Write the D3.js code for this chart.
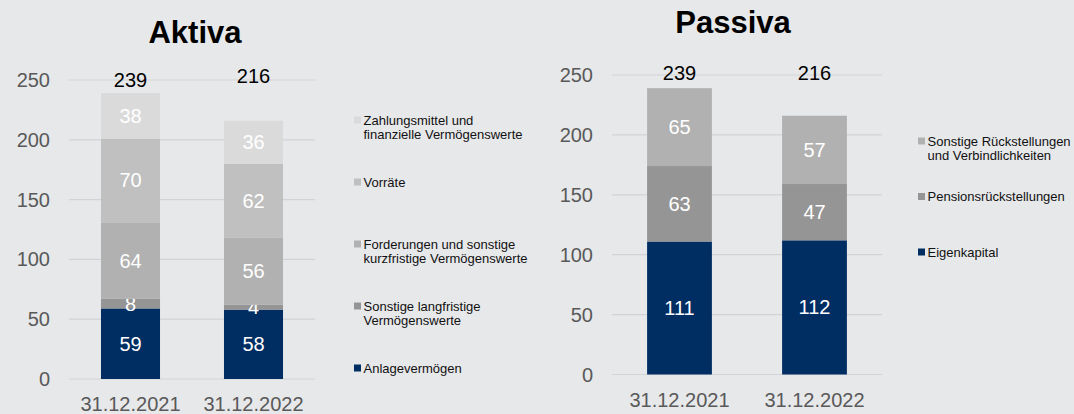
<!DOCTYPE html>
<html><head><meta charset="utf-8">
<script src="https://cdn.jsdelivr.net/npm/d3@7/dist/d3.min.js"></script>
<style>
html,body{margin:0;padding:0;background:#e7e8ea;}
svg{display:block;font-family:"Liberation Sans",Arial,sans-serif;}
</style></head>
<body><svg id="chart" width="1074" height="414"></svg>
<script>
// ---- data ----
const categories = ["31.12.2021", "31.12.2022"];
const yTicks = [0, 50, 100, 150, 200, 250];

const aktivaSeries = ["Anlagevermögen", "Sonstige langfristige Vermögenswerte", "Forderungen und sonstige kurzfristige Vermögenswerte", "Vorräte", "Zahlungsmittel und finanzielle Vermögenswerte"];
const aktivaLegend = [["Zahlungsmittel und", "finanzielle Vermögenswerte"], ["Vorräte"], ["Forderungen und sonstige", "kurzfristige Vermögenswerte"], ["Sonstige langfristige", "Vermögenswerte"], ["Anlagevermögen"]];
const anlagevermoegen = [59, 58];
const sonstigeLangfristige = [8, 4];
const forderungen = [64, 56];
const vorraete = [70, 62];
const zahlungsmittel = [38, 36];
const aktivaTotals = [239, 216];

const passivaSeries = ["Eigenkapital", "Pensionsrückstellungen", "Sonstige Rückstellungen und Verbindlichkeiten"];
const passivaLegend = [["Sonstige Rückstellungen", "und Verbindlichkeiten"], ["Pensionsrückstellungen"], ["Eigenkapital"]];
const eigenkapital = [111, 112];
const pensionen = [63, 47];
const sonstigeRueck = [65, 57];
const passivaTotals = [239, 216];

const navy = "#002d62";

const svg = d3.select("#chart");
svg.append("rect").attr("width", 1074).attr("height", 414).attr("fill", "#e7e8ea");

function drawChart(cfg) {
  const g = svg.append("g");
  const x = d3.scaleBand().domain(categories).range([cfg.x0, cfg.x1]).paddingInner(0.52).paddingOuter(0.26);
  const y = d3.scaleLinear().domain([0, 250]).range([cfg.yBottom, cfg.yTop]);

  // gridlines
  g.selectAll("line.grid").data(yTicks).join("line")
    .attr("x1", cfg.x0).attr("x2", cfg.x1)
    .attr("y1", d => y(d)).attr("y2", d => y(d))
    .attr("stroke", "#d2d3d6").attr("stroke-width", 1.2);

  // y tick labels
  g.selectAll("text.ytick").data(yTicks).join("text")
    .attr("x", cfg.x0 - 19).attr("y", d => y(d)).attr("dy", "0.35em")
    .attr("text-anchor", "end").attr("font-size", 20).attr("fill", "#595959")
    .text(d => d);

  // x labels
  g.selectAll("text.xtick").data(categories).join("text")
    .attr("x", d => x(d) + x.bandwidth() / 2).attr("y", y(0) + 32)
    .attr("text-anchor", "middle").attr("font-size", 20).attr("fill", "#595959")
    .text(d => d);

  // stacked data
  const rows = categories.map((c, i) => {
    const r = { cat: c };
    cfg.series.forEach((s, k) => r[s] = cfg.values[k][i]);
    return r;
  });
  const stacked = d3.stack().keys(cfg.series)(rows);
  const color = d3.scaleOrdinal().domain(cfg.series).range(cfg.colors);

  stacked.forEach(layer => {
    g.selectAll(null).data(layer).join("rect")
      .attr("x", d => x(d.data.cat)).attr("width", x.bandwidth())
      .attr("y", d => y(d[1])).attr("height", d => y(d[0]) - y(d[1]))
      .attr("fill", color(layer.key));
    g.selectAll(null).data(layer).join("text")
      .attr("x", d => x(d.data.cat) + x.bandwidth() / 2)
      .attr("y", d => y((d[0] + d[1]) / 2)).attr("dy", "0.35em")
      .attr("text-anchor", "middle").attr("font-size", 20).attr("fill", "#ffffff")
      .text(d => d[1] - d[0]);
  });

  // totals
  g.selectAll("text.total").data(cfg.totals).join("text")
    .attr("x", (d, i) => x(categories[i]) + x.bandwidth() / 2)
    .attr("y", (d, i) => y(250) + cfg.totalOffsets[i])
    .attr("text-anchor", "middle").attr("font-size", 20).attr("fill", "#000")
    .text(d => d);

  // title
  g.append("text").attr("x", cfg.titleX).attr("y", cfg.titleY)
    .attr("text-anchor", "middle").attr("font-size", 31).attr("font-weight", "bold")
    .attr("fill", "#000").text(cfg.title);

  // legend
  const ly = d3.scalePoint().domain(d3.range(cfg.legend.length)).range(cfg.legendRange);
  const legendColors = cfg.colors.slice().reverse();
  cfg.legend.forEach((lines, i) => {
    const cy = ly(i);
    g.append("rect").attr("x", cfg.legendX).attr("y", cy - 3.5).attr("width", 7).attr("height", 7)
      .attr("fill", legendColors[i]);
    const t = g.append("text").attr("x", cfg.legendX + 9.5).attr("y", cy)
      .attr("font-size", 13).attr("fill", "#111");
    lines.forEach((ln, j) => {
      t.append("tspan").attr("x", cfg.legendX + 9.5).attr("dy", j === 0 ? "0.35em" : "14.5").text(ln);
    });
  });
}

drawChart({
  title: "Aktiva", titleX: 195, titleY: 43,
  x0: 69, x1: 315, yBottom: 379, yTop: 80,
  series: aktivaSeries,
  values: [anlagevermoegen, sonstigeLangfristige, forderungen, vorraete, zahlungsmittel],
  colors: [navy, "#959595", "#b1b1b1", "#c0c0c0", "#dadada"],
  totals: aktivaTotals, totalOffsets: [7, 3],
  legend: aktivaLegend, legendX: 354, legendRange: [120, 368]
});

drawChart({
  title: "Passiva", titleX: 733, titleY: 33,
  x0: 612, x1: 882, yBottom: 374.5, yTop: 75,
  series: passivaSeries,
  values: [eigenkapital, pensionen, sonstigeRueck],
  colors: [navy, "#959595", "#b1b1b1"],
  totals: passivaTotals, totalOffsets: [5, 5],
  legend: passivaLegend, legendX: 918, legendRange: [141, 252]
});
</script></body></html>
